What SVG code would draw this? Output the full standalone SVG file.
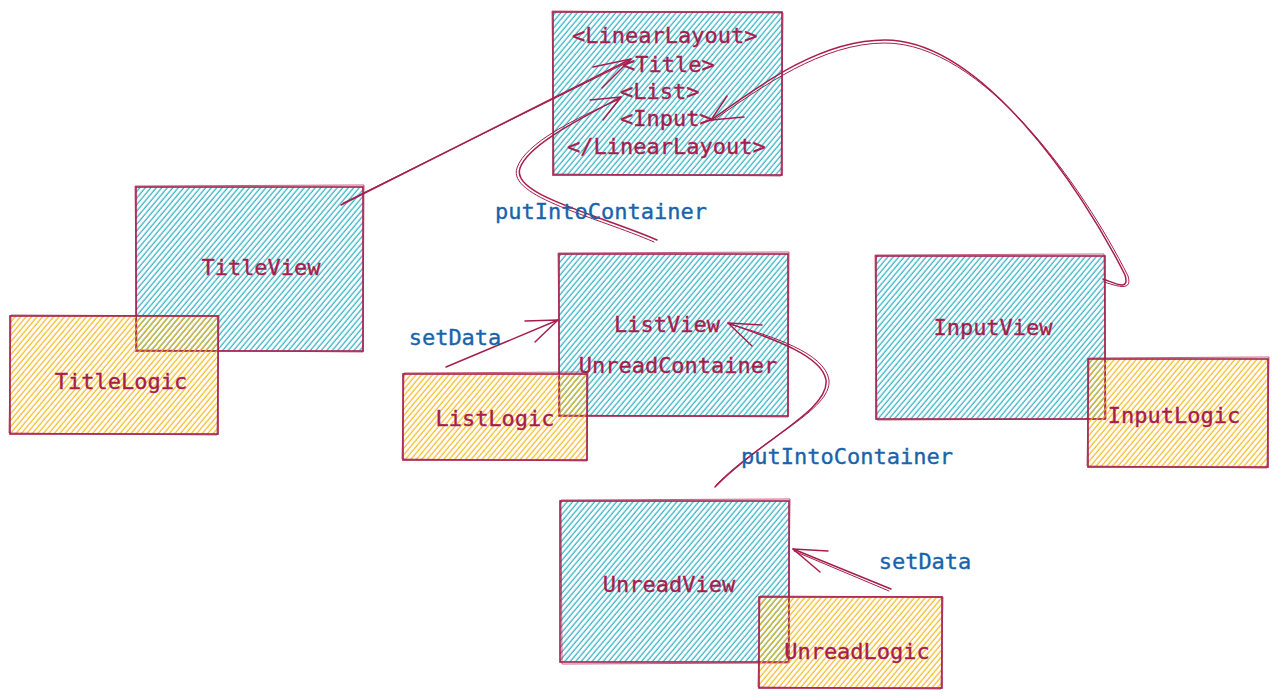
<svg xmlns="http://www.w3.org/2000/svg" width="1280" height="700" viewBox="0 0 1280 700">
<defs>
<pattern id="hb" patternUnits="userSpaceOnUse" width="4.2" height="12" patternTransform="rotate(40)">
<line x1="1" y1="0" x2="1" y2="12" stroke="#15aabf" stroke-width="1.1"/>
</pattern>
<pattern id="hy" patternUnits="userSpaceOnUse" width="4.2" height="12" patternTransform="rotate(40)">
<line x1="1" y1="0" x2="1" y2="12" stroke="#fab005" stroke-width="1.1"/>
</pattern>
</defs>
<style>
.b{stroke:#a61e4d;stroke-width:1.6;fill:url(#hb)}
.y{stroke:#a61e4d;stroke-width:1.6;fill:url(#hy)}
.o{stroke:#a61e4d;stroke-width:1;fill:none;opacity:0.7}
.t{font-family:"DejaVu Sans Mono","Liberation Mono",monospace;font-size:22px;fill:#a61e4d;stroke:#a61e4d;stroke-width:0.35;text-anchor:middle}
.ts{font-family:"DejaVu Sans Mono","Liberation Mono",monospace;font-size:22px;fill:#a61e4d;stroke:#a61e4d;stroke-width:0.35}
.l{font-family:"DejaVu Sans Mono","Liberation Mono",monospace;font-size:22px;fill:#1864ab;stroke:#1864ab;stroke-width:0.35;text-anchor:middle}
.c{stroke:#a61e4d;stroke-width:1.5;fill:none;stroke-linecap:round;stroke-linejoin:round}
.c2{stroke:#a61e4d;stroke-width:1;fill:none;stroke-linecap:round}
</style>
<rect width="1280" height="700" fill="#ffffff"/>

<g id="linearlayout">
<rect class="b" x="553" y="12" width="229" height="163"/>
<path class="o" d="M552,11 L783,13 L781,176 L554,174 Z"/>
<text class="ts" x="572" y="43">&lt;LinearLayout&gt;</text>
<text class="ts" x="622" y="72">&lt;Title&gt;</text>
<text class="ts" x="620" y="99">&lt;List&gt;</text>
<text class="ts" x="620" y="126">&lt;Input&gt;</text>
<text class="ts" x="567" y="154">&lt;/LinearLayout&gt;</text>
</g>

<g id="titleview">
<rect class="b" x="136" y="187" width="227" height="164"/>
<path class="o" d="M135,186 L364,185 L363,352 L137,350 Z"/>
<text class="t" x="261" y="275">TitleView</text>
</g>

<g id="listview">
<rect class="b" x="559" y="254" width="229" height="162"/>
<path class="o" d="M558,253 L789,252 L788,417 L560,415 Z"/>
<text class="t" x="667" y="332">ListView</text>
<text class="t" x="678" y="373">UnreadContainer</text>
</g>

<g id="inputview">
<rect class="b" x="876" y="256" width="229" height="163"/>
<path class="o" d="M875,255 L1104,254 L1106,419 L877,420 Z"/>
<text class="t" x="993" y="335">InputView</text>
</g>

<g id="unreadview">
<rect class="b" x="560" y="501" width="229" height="161"/>
<path class="o" d="M561,500 L790,499 L788,663 L562,664 Z"/>
<text class="t" x="669" y="592">UnreadView</text>
</g>

<g id="titlelogic">
<rect class="y" x="10" y="316" width="208" height="118"/>
<path class="o" d="M11,315 L219,316 L217,435 L9,433 Z"/>
<text class="t" x="121" y="389">TitleLogic</text>
</g>

<g id="listlogic">
<rect class="y" x="403" y="374" width="184" height="86"/>
<path class="o" d="M404,373 L588,372 L587,461 L402,459 Z"/>
<text class="t" x="495" y="426">ListLogic</text>
</g>

<g id="inputlogic">
<rect class="y" x="1088" y="359" width="180" height="108"/>
<path class="o" d="M1089,358 L1269,357 L1267,468 L1087,466 Z"/>
<text class="t" x="1174" y="423">InputLogic</text>
</g>

<g id="unreadlogic">
<rect class="y" x="759" y="597" width="183" height="91"/>
<path class="o" d="M760,596 L943,597 L941,689 L758,687 Z"/>
<text class="t" x="857" y="659">UnreadLogic</text>
</g>

<g id="connectors">
<path class="c" d="M341,205 L631,59"/>
<path class="c2" d="M343,203 L630,61"/>
<path class="c" d="M631,59 L593,67 M631,59 L602,88"/>
<path class="c" d="M657,240 C600,215 510,195 520,168 C528,145 578,120 621,97"/>
<path class="c2" d="M654,242 C597,217 507,197 517,168 C525,143 576,118 620,99"/>
<path class="c" d="M621,97 L590,100 M621,97 L603,120"/>
<path class="c" d="M1103,279 C1115,283 1130,292 1125,275 C1080,185 980,40 885,40 C820,40 760,85 711,120"/>
<path class="c2" d="M1104,282 C1117,286 1133,292 1128,276 C1083,186 982,43 885,43 C822,43 762,87 712,121"/>
<path class="c" d="M711,120 L744,117 M711,120 L727,96"/>
<path class="c" d="M715,487 C760,440 830,410 826,380 C822,355 770,338 728,323"/>
<path class="c2" d="M716,485 C762,438 832,410 829,380 C825,353 772,336 729,324"/>
<path class="c" d="M728,323 L762,325 M728,323 L752,346"/>
<path class="c" d="M446,367 L558,320"/>
<path class="c" d="M558,320 L525,321 M558,320 L535,342"/>
<path class="c" d="M891,589 L793,549"/>
<path class="c2" d="M889,591 L794,551"/>
<path class="c" d="M793,549 L828,551 M793,549 L820,572"/>
</g>

<g id="labels">
<text class="l" x="601" y="219">putIntoContainer</text>
<text class="l" x="847" y="464">putIntoContainer</text>
<text class="l" x="455" y="345">setData</text>
<text class="l" x="925" y="569">setData</text>
</g>
</svg>
